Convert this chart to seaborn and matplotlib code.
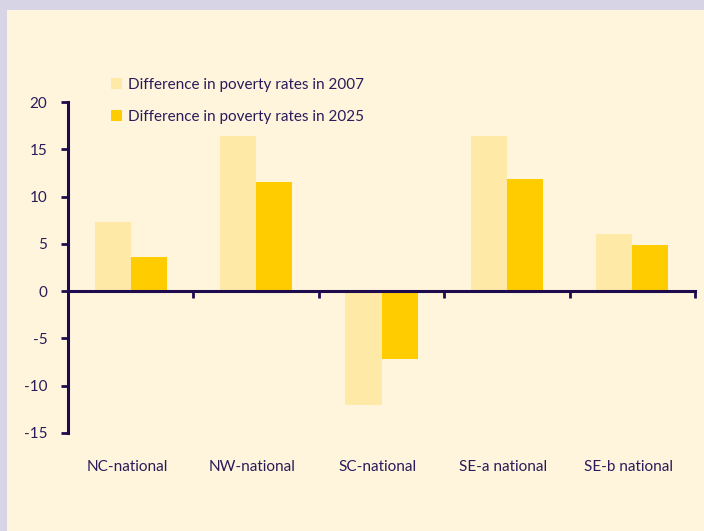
import pandas as pd
import matplotlib.pyplot as plt
import matplotlib.transforms as mtransforms
from matplotlib.patches import Rectangle
import seaborn as sns

# ============================================================
# Data
# ============================================================
regions = ["NC-national", "NW-national", "SC-national", "SE-a national", "SE-b national"]
diff_2007 = [7.3, 16.4, -12.0, 16.4, 6.0]
diff_2025 = [3.6, 11.5, -7.2, 11.9, 4.9]
series_names = ["Difference in poverty rates in 2007", "Difference in poverty rates in 2025"]
y_ticks = [-15, -10, -5, 0, 5, 10, 15, 20]

df = pd.DataFrame({
    "Region": regions * 2,
    "Value": diff_2007 + diff_2025,
    "Series": [series_names[0]] * len(regions) + [series_names[1]] * len(regions),
})

# ============================================================
# Styling
# ============================================================
sns.set_style("white")
plt.rcParams["font.family"] = ["Lato", "DejaVu Sans"]
plt.rcParams["axes.unicode_minus"] = False

BG = "#FFF5DC"
FRAME = "#D7D5E5"
INK = "#1E0B4E"
TEXT = "#2A1A5A"
palette = ["#FFE9A6", "#FFCC00"]

fig = plt.figure(figsize=(7.04, 5.31), dpi=100, facecolor=FRAME)
fig.patches.append(Rectangle((7 / 704, 0), 1, 1 - 10 / 531, transform=fig.transFigure,
                             facecolor=BG, edgecolor="none", zorder=-10))

ax = fig.add_axes([68 / 704, 1 - 433 / 531, (695 - 68) / 704, (433 - 102) / 531])
ax.set_facecolor("none")

sns.barplot(data=df, x="Region", y="Value", hue="Series", palette=palette,
            width=0.575, errorbar=None, saturation=1, linewidth=0,
            ax=ax, legend=True)

ax.set_xlim(-0.5, len(regions) - 0.5)
ax.set_ylim(-15, 20)
ax.set_yticks(y_ticks)
ax.set_xlabel("")
ax.set_ylabel("")

# spines
for s in ["top", "right"]:
    ax.spines[s].set_visible(False)
ax.spines["bottom"].set_position(("data", 0))
ax.spines["bottom"].set_color(INK)
ax.spines["bottom"].set_linewidth(2.2)
ax.spines["left"].set_color(INK)
ax.spines["left"].set_linewidth(2.2)

# y ticks
ax.tick_params(axis="y", direction="out", length=5, width=2, color=INK,
               labelcolor=TEXT, labelsize=11, pad=10, left=True)

# x ticks: boundaries between categories, labels placed below the plot
ax.set_xticks([i + 0.5 for i in range(len(regions))])
ax.set_xticklabels([])
ax.tick_params(axis="x", direction="out", length=5, width=2, color=INK, bottom=True)
trans = mtransforms.blended_transform_factory(ax.transData, ax.transAxes)
for i, name in enumerate(regions):
    ax.text(i - 0.03, -0.103, name, transform=trans, ha="center", va="center",
            fontsize=11, color=TEXT)

# legend
handles, labels = ax.get_legend_handles_labels()
ax.legend(handles, labels, loc="upper left", bbox_to_anchor=(97 / 704, 1 - 64 / 531),
          bbox_transform=fig.transFigure, frameon=False, fontsize=11,
          labelcolor=TEXT, handlelength=0.75, handleheight=0.75,
          handletextpad=0.35, labelspacing=1.2)

fig.savefig("out.png", dpi=100, facecolor=FRAME)
